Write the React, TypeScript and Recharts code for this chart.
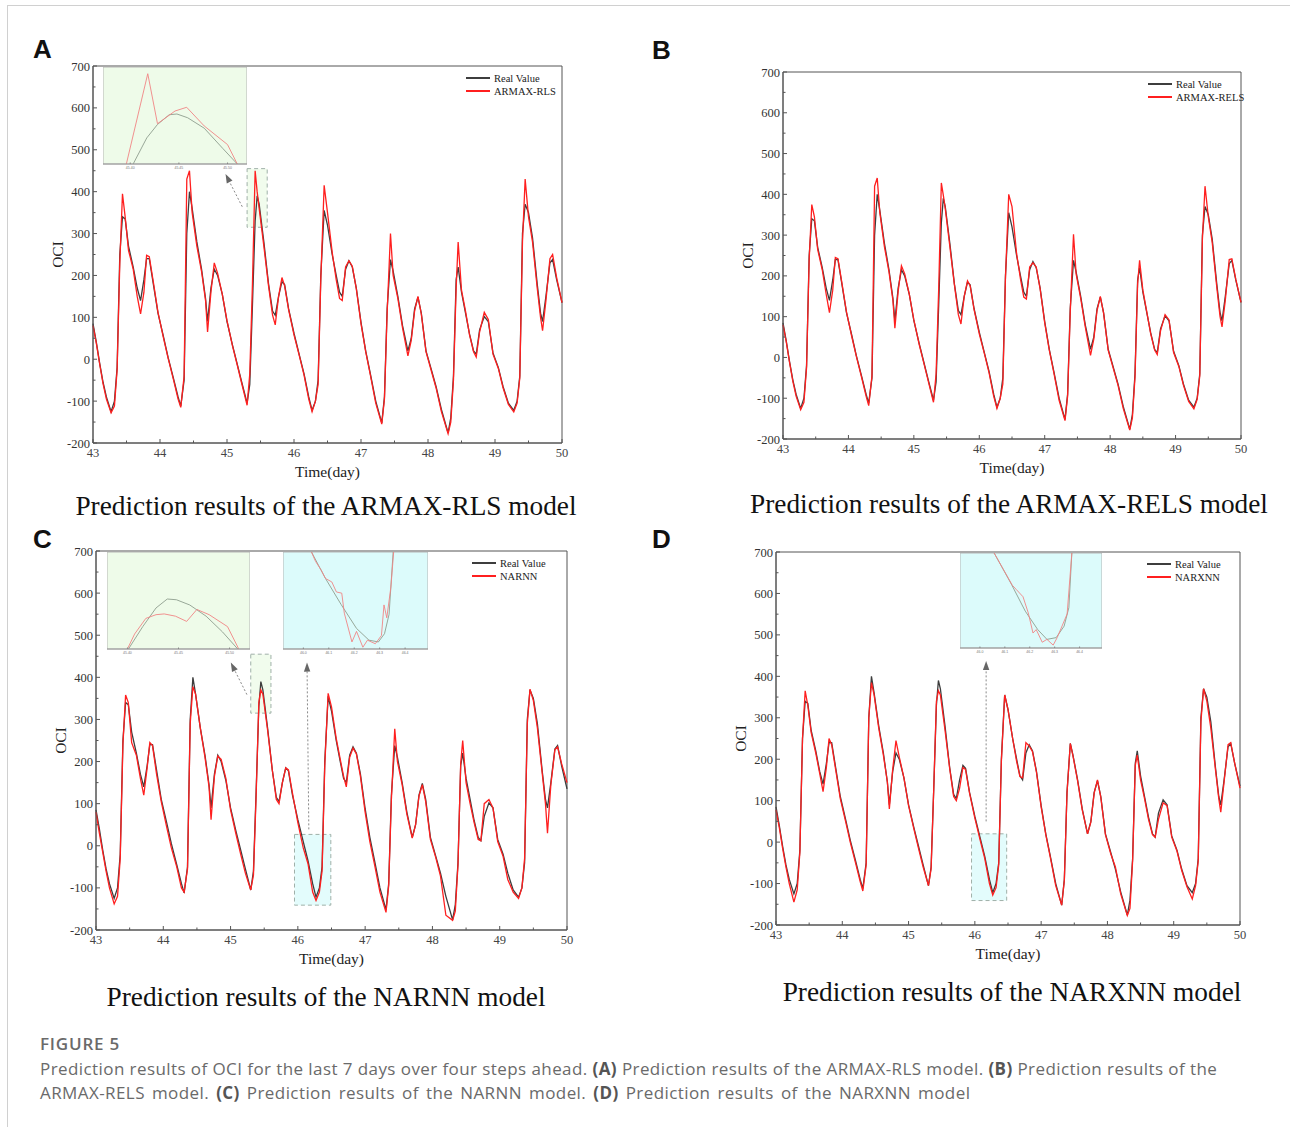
import React from "react";
import {
  CartesianGrid,
  Legend,
  Line,
  LineChart,
  ReferenceArea,
  ReferenceLine,
  XAxis,
  YAxis,
} from "recharts";

const SERIF = '"Liberation Serif", "Times New Roman", serif';
const SANS = '"Liberation Sans", Arial, sans-serif';
const CAPTION = '"Open Sans", "Noto Sans", sans-serif';

const REAL_COLOR = "#3d3d3d";
const PRED_COLOR = "#ff1f1f";

// sampling instants (day), shared by the four panels
const days = [
  43.0, 43.05, 43.1, 43.15, 43.2, 43.27, 43.32, 43.36, 43.4, 43.44,
  43.48, 43.53, 43.6, 43.66, 43.71, 43.76, 43.8, 43.84, 43.9, 43.97,
  44.05, 44.12, 44.2, 44.27, 44.31, 44.36, 44.4, 44.44, 44.48, 44.55,
  44.62, 44.68, 44.71, 44.76, 44.81, 44.86, 44.93, 45.0, 45.08, 45.15,
  45.22, 45.3, 45.34, 45.38, 45.42, 45.45, 45.48, 45.55, 45.62, 45.68,
  45.72, 45.77, 45.82, 45.86, 45.92, 46.0, 46.08, 46.15, 46.22, 46.27,
  46.32, 46.36, 46.4, 46.45, 46.5, 46.57, 46.63, 46.68, 46.72, 46.77,
  46.82, 46.87, 46.93, 47.0, 47.07, 47.14, 47.22, 47.31, 47.35, 47.39,
  47.44, 47.48, 47.55, 47.62, 47.7, 47.75, 47.8, 47.85, 47.9, 47.97,
  48.05, 48.12, 48.2, 48.3, 48.34, 48.38, 48.42, 48.45, 48.5, 48.56,
  48.62, 48.68, 48.72, 48.77, 48.84, 48.9, 48.97, 49.05, 49.12, 49.2,
  49.28, 49.33, 49.37, 49.41, 49.45, 49.5, 49.56, 49.63, 49.68, 49.71,
  49.76, 49.82, 49.86, 49.92, 50.0,
];

const realOCI = [
  85, 40, -10, -55, -90, -125, -100, -20, 250, 340,
  335, 270, 220, 170, 140, 190, 240, 240, 180, 110,
  55, 5, -45, -90, -112, -50, 300, 400, 360, 280,
  215, 145, 90, 170, 215, 200, 155, 90, 35, -10,
  -55, -105, -60, 130, 330, 390, 370, 280, 180, 115,
  105, 150, 185, 178, 120, 62, 10, -35, -90, -122,
  -100, -50, 200, 355, 320, 250, 200, 160, 150, 215,
  235, 220, 170, 88, 20, -35, -100, -152, -90, 120,
  238, 210, 150, 80, 20, 50, 120, 148, 110, 20,
  -25, -65, -120, -176, -140, -40, 190, 220, 160, 110,
  60, 20, 12, 70, 102, 90, 15, -20, -65, -105,
  -122, -100, -40, 300, 370, 350, 290, 180, 110, 90,
  150, 230, 238, 190, 135,
];

const armaxRlsOCI = [
  80, 38, -12, -58, -95, -128, -112, -25, 230, 395,
  340, 260, 215, 150, 108, 160, 248, 245, 185, 112,
  52, 3, -48, -95, -115, -40, 430, 450, 350, 270,
  210, 140, 65, 160, 230, 205, 155, 92, 33, -12,
  -58, -110, -35, 180, 450, 400, 360, 270, 175, 105,
  82, 150, 195, 175, 118, 58, 8, -38, -95, -125,
  -100, -60, 190, 415, 350, 255, 190, 145, 140, 220,
  235, 222, 168, 85, 18, -38, -105, -155, -95, 110,
  300, 200, 145, 75, 8, 45, 115, 150, 108, 18,
  -28, -68, -125, -178, -150, -50, 170, 280, 165, 115,
  58, 18, 5, 65, 112, 95, 12, -22, -68, -108,
  -126, -105, -45, 280, 430, 340, 280, 170, 100, 68,
  140, 240, 250, 195, 135,
];

const armaxRelsOCI = [
  80, 38, -12, -58, -95, -128, -110, -25, 240, 375,
  345, 265, 215, 155, 110, 165, 245, 242, 183, 112,
  52, 3, -48, -95, -118, -45, 420, 440, 355, 272,
  210, 140, 72, 162, 225, 205, 155, 92, 33, -12,
  -58, -110, -40, 170, 428, 398, 365, 272, 178, 105,
  82, 150, 188, 176, 118, 58, 8, -38, -95, -125,
  -100, -65, 195, 400, 370, 255, 192, 148, 143, 222,
  232, 222, 168, 85, 18, -38, -105, -155, -95, 110,
  302, 205, 145, 75, 5, 45, 115, 150, 108, 18,
  -28, -68, -125, -178, -148, -48, 180, 238, 165, 112,
  58, 18, 7, 65, 105, 92, 12, -22, -68, -108,
  -126, -103, -45, 290, 420, 345, 282, 172, 100, 75,
  140, 240, 242, 192, 135,
];

const narnnOCI = [
  80, 30, -15, -60, -100, -138, -120, -30, 240, 358,
  340, 245, 215, 160, 120, 185, 245, 238, 170, 105,
  45, -5, -50, -100, -110, -55, 290, 378, 360, 280,
  210, 140, 62, 165, 213, 205, 160, 85, 28, -20,
  -65, -105, -70, 120, 340, 370, 360, 275, 180, 110,
  100, 150, 185, 180, 125, 55, -5, -42, -110, -130,
  -110, -60, 190, 362, 330, 255, 205, 165, 140, 210,
  232, 218, 165, 80, 10, -45, -110, -158, -95, 110,
  278, 200, 145, 75, 18, 50, 118, 145, 105, 15,
  -28, -72, -165, -177, -155, -45, 195, 250, 150, 100,
  55, 15, 12, 100, 110, 90, 10, -25, -80, -110,
  -125, -100, -30, 290, 372, 345, 280, 175, 100, 30,
  145, 228, 235, 195, 150,
];

const narxnnOCI = [
  78, 35, -15, -60, -100, -145, -115, -25, 250, 365,
  330, 265, 215, 165, 122, 180, 250, 235, 175, 105,
  50, 0, -50, -95, -118, -55, 300, 385, 355, 275,
  210, 145, 80, 175, 245, 205, 155, 88, 32, -15,
  -60, -105, -65, 130, 340, 365, 355, 270, 178, 110,
  100, 130, 180, 175, 118, 58, 5, -40, -100, -128,
  -110, -55, 195, 355, 320, 250, 195, 158, 155, 240,
  232, 218, 168, 85, 18, -38, -105, -152, -92, 118,
  238, 208, 148, 78, 20, 48, 118, 150, 108, 18,
  -28, -60, -125, -177, -160, -45, 185, 210, 150, 105,
  55, 18, 12, 55, 95, 88, 12, -22, -68, -108,
  -137, -105, -45, 290, 370, 340, 275, 175, 105, 72,
  145, 235, 240, 190, 130,
];

const dayTicks = [43, 43.5, 44, 44.5, 45, 45.5, 46, 46.5, 47, 47.5, 48, 48.5, 49, 49.5, 50];
const ociTicks = [-200, -150, -100, -50, 0, 50, 100, 150, 200, 250, 300, 350, 400, 450, 500, 550, 600, 650, 700];

// zoomed insets: peak near day 45.45 and trough near day 46.27
const peakTicksX = [45.4, 45.45, 45.5];
const peakTicksY = [320, 340, 360, 380, 400, 420, 440];
const troughTicksX = [46.0, 46.1, 46.2, 46.3, 46.4];
const troughTicksY = [-120, -100, -80, -60, -40, -20, 0, 20];

const peakA_realDays = [45.403, 45.417, 45.428, 45.44, 45.448, 45.459, 45.476, 45.495, 45.51];
const peakA_real = [320, 355, 373, 386, 387, 382, 368, 341, 320];
const peakA_predDays = [45.396, 45.418, 45.428, 45.446, 45.458, 45.476, 45.5, 45.51];
const peakA_pred = [320, 441, 374, 391, 396, 371, 346, 320];

const peakC_realDays = [45.401, 45.415, 45.428, 45.439, 45.448, 45.461, 45.477, 45.493, 45.508];
const peakC_real = [320, 350, 375, 387, 386, 379, 364, 343, 320];
const peakC_predDays = [45.4, 45.407, 45.418, 45.428, 45.436, 45.447, 45.458, 45.468, 45.48, 45.498, 45.509];
const peakC_pred = [320, 340, 361, 366, 367, 364, 357, 373, 366, 350, 320];

const troughC_realDays = [46.032, 46.087, 46.148, 46.209, 46.258, 46.295, 46.319, 46.337, 46.353];
const troughC_real = [27, -18, -62, -103, -123, -126, -112, -79, 27];
const troughC_predDays = [46.032, 46.048, 46.069, 46.087, 46.112, 46.13, 46.151, 46.161, 46.191, 46.209, 46.234, 46.252, 46.283, 46.307, 46.317, 46.328, 46.344, 46.355];
const troughC_pred = [27, 11, -3, -18, -24, -41, -43, -77, -126, -108, -135, -123, -129, -115, -63, -85, -33, 27];

const troughD_realDays = [46.057, 46.126, 46.182, 46.232, 46.269, 46.306, 46.338, 46.357, 46.369];
const troughD_real = [27, -27, -74, -106, -123, -120, -100, -68, 27];
const troughD_predDays = [46.057, 46.13, 46.145, 46.173, 46.194, 46.213, 46.226, 46.25, 46.269, 46.294, 46.31, 46.35, 46.369];
const troughD_pred = [27, -29, -36, -49, -77, -112, -106, -128, -123, -133, -120, -79, 27];

const GREEN = "#eefbe9";
const CYAN = "#dcfbfb";

type Pt = { t: number; v: number };
const pts = (ts: number[], vs: number[]): Pt[] => ts.map((t, i) => ({ t, v: vs[i] }));

function MainXTick(props: any) {
  const { x, y, payload } = props;
  const major = Number.isInteger(payload.value);
  return (
    <g>
      <line x1={x} y1={y} x2={x} y2={y - (major ? 4 : 2.5)} stroke="#555" />
      {major && (
        <text x={x} y={y + 14} textAnchor="middle" fontFamily={SERIF} fontSize={12.5} fill="#444">
          {payload.value}
        </text>
      )}
    </g>
  );
}

function MainYTick(props: any) {
  const { x, y, payload } = props;
  const major = payload.value % 100 === 0;
  return (
    <g>
      <line x1={x} y1={y} x2={x + (major ? 4 : 2.5)} y2={y} stroke="#555" />
      {major && (
        <text x={x - 3} y={y + 4.5} textAnchor="end" fontFamily={SERIF} fontSize={12.5} fill="#333">
          {payload.value}
        </text>
      )}
    </g>
  );
}

function InsetXTick(props: any) {
  const { x, y, payload, digits } = props;
  return (
    <g>
      <line x1={x} y1={y} x2={x} y2={y - 1.5} stroke="#888" />
      <text x={x} y={y + 5} textAnchor="middle" fontFamily={SANS} fontSize={3.5} fill="#777">
        {payload.value.toFixed(digits)}
      </text>
    </g>
  );
}

function InsetYTick(props: any) {
  const { x, y, payload } = props;
  return (
    <g>
      <line x1={x} y1={y} x2={x + 1.5} y2={y} stroke="#888" />
      <text x={x + 3} y={y + 1.2} fontFamily={SANS} fontSize={3.5} fill="#777">
        {payload.value}
      </text>
    </g>
  );
}

function arrowShape(p: any) {
  const { x1, y1, x2, y2 } = p;
  const a = Math.atan2(y2 - y1, x2 - x1);
  const bx = x2 - 9 * Math.cos(a);
  const by = y2 - 9 * Math.sin(a);
  const s = Math.sin(a) * 3.2;
  const c = Math.cos(a) * 3.2;
  return (
    <g>
      <line x1={x1} y1={y1} x2={bx} y2={by} stroke="#8a8a8a" strokeDasharray="2 2" />
      <polygon points={`${x2},${y2} ${bx - s},${by + c} ${bx + s},${by - c}`} fill="#666" />
    </g>
  );
}

type InsetProps = {
  left: number;
  top: number;
  width: number;
  height: number;
  bg: string;
  xDomain: [number, number];
  yDomain: [number, number];
  xTicks: number[];
  yTicks: number[];
  digits: number;
  real: Pt[];
  pred: Pt[];
};

function Inset(p: InsetProps) {
  return (
    <div style={{ position: "absolute", left: p.left, top: p.top }}>
      <LineChart width={p.width} height={p.height + 8} margin={{ top: 0, right: 0, left: 0, bottom: 0 }}>
        <CartesianGrid horizontal={false} vertical={false} fill={p.bg} fillOpacity={1} />
        <XAxis
          dataKey="t"
          type="number"
          domain={p.xDomain}
          allowDataOverflow
          ticks={p.xTicks}
          interval={0}
          height={8}
          tickSize={0}
          tickMargin={0}
          tickLine={false}
          axisLine={{ stroke: "#999" }}
          tick={(t: any) => <InsetXTick {...t} digits={p.digits} />}
        />
        <YAxis
          type="number"
          domain={p.yDomain}
          allowDataOverflow
          ticks={p.yTicks}
          interval={0}
          width={0}
          tickSize={0}
          tickMargin={0}
          tickLine={false}
          axisLine={{ stroke: "#999" }}
          tick={(t: any) => <InsetYTick {...t} />}
        />
        <ReferenceArea x1={p.xDomain[0]} x2={p.xDomain[1]} y1={p.yDomain[0]} y2={p.yDomain[1]} fill="none" stroke="#b5b5b5" />
        <Line data={p.real} dataKey="v" stroke="#8e9e8e" strokeWidth={0.9} dot={false} isAnimationActive={false} />
        <Line data={p.pred} dataKey="v" stroke="#f08585" strokeWidth={0.9} dot={false} isAnimationActive={false} />
      </LineChart>
    </div>
  );
}

type Box = { x1: number; x2: number; y1: number; y2: number; fill: string };
type Arrow = { from: [number, number]; to: [number, number] };

type PanelProps = {
  plot: { x0: number; x1: number; y0: number; y1: number };
  pred: number[];
  predName: string;
  legendDx: number;
  boxes: Box[];
  arrows: Arrow[];
};

function Panel({ plot, pred, predName, legendDx, boxes, arrows }: PanelProps) {
  const { x0, x1, y0, y1 } = plot;
  const L = x0 - 60;
  const T = y0 - 20;
  const W = x1 + 20 - L;
  const H = y1 + 46 - T;
  const data = days.map((t, i) => ({ t, real: realOCI[i], pred: pred[i] }));
  return (
    <div style={{ position: "absolute", left: L, top: T }}>
      <LineChart width={W} height={H} data={data} margin={{ top: 20, right: 20, left: 15, bottom: 4 }}>
        <XAxis
          dataKey="t"
          type="number"
          domain={[43, 50]}
          ticks={dayTicks}
          interval={0}
          height={42}
          tickSize={0}
          tickMargin={0}
          tickLine={false}
          axisLine={{ stroke: "#555" }}
          tick={(t: any) => <MainXTick {...t} />}
          label={(lp: any) => {
            const vb = lp.viewBox;
            return (
              <text x={vb.x + vb.width / 2} y={vb.y + 34} textAnchor="middle" fontFamily={SERIF} fontSize={15.5} fill="#222">
                Time(day)
              </text>
            );
          }}
        />
        <YAxis
          type="number"
          domain={[-200, 700]}
          ticks={ociTicks}
          interval={0}
          width={45}
          tickSize={0}
          tickMargin={0}
          tickLine={false}
          axisLine={{ stroke: "#555" }}
          tick={(t: any) => <MainYTick {...t} />}
          label={(lp: any) => {
            const vb = lp.viewBox;
            const cx = vb.x + 9;
            const cy = vb.y + vb.height / 2;
            return (
              <text
                x={cx}
                y={cy}
                transform={`rotate(-90 ${cx} ${cy})`}
                textAnchor="middle"
                dominantBaseline="central"
                fontFamily={SERIF}
                fontSize={15.5}
                fill="#222"
              >
                OCI
              </text>
            );
          }}
        />
        <ReferenceArea x1={43} x2={50} y1={-200} y2={700} fill="none" stroke="#555" />
        {boxes.map((b, i) => (
          <ReferenceArea
            key={"b" + i}
            x1={b.x1}
            x2={b.x2}
            y1={b.y1}
            y2={b.y2}
            fill={b.fill}
            fillOpacity={0.8}
            stroke="#9fb0a8"
            strokeDasharray="4 3"
          />
        ))}
        {arrows.map((a, i) => (
          <ReferenceLine
            key={"a" + i}
            segment={[
              { x: a.from[0], y: a.from[1] },
              { x: a.to[0], y: a.to[1] },
            ]}
            shape={arrowShape}
          />
        ))}
        <Line dataKey="real" name="Real Value" stroke={REAL_COLOR} strokeWidth={1.3} dot={false} isAnimationActive={false} />
        <Line dataKey="pred" name={predName} stroke={PRED_COLOR} strokeWidth={1.3} dot={false} isAnimationActive={false} />
        <Legend
          layout="vertical"
          align="center"
          verticalAlign="middle"
          wrapperStyle={{ left: x1 - legendDx - L, top: 25.5, width: 110 }}
          content={(lp: any) => {
            const items = [...(lp.payload || [])].sort((a: any, b: any) =>
              a.dataKey === "real" ? -1 : b.dataKey === "real" ? 1 : 0
            );
            return (
              <div style={{ fontFamily: SERIF, fontSize: 10.5, color: "#222", lineHeight: "13px" }}>
                {items.map((e: any) => (
                  <div key={String(e.dataKey)} style={{ display: "flex", alignItems: "center" }}>
                    <span
                      style={{
                        display: "inline-block",
                        width: 24,
                        height: 1.5,
                        background: e.dataKey === "real" ? REAL_COLOR : PRED_COLOR,
                        marginRight: 4,
                      }}
                    />
                    {e.value}
                  </div>
                ))}
              </div>
            );
          }}
        />
      </LineChart>
    </div>
  );
}

function Letter({ x, y, c }: { x: number; y: number; c: string }) {
  return (
    <div style={{ position: "absolute", left: x, top: y, fontFamily: SANS, fontWeight: 700, fontSize: 26, lineHeight: 1, color: "#111" }}>
      {c}
    </div>
  );
}

function Title({ cx, cy, text }: { cx: number; cy: number; text: string }) {
  return (
    <div
      style={{
        position: "absolute",
        left: cx - 400,
        top: cy - 13.8,
        width: 800,
        textAlign: "center",
        fontFamily: SERIF,
        fontSize: 27.3,
        lineHeight: 1,
        color: "#111",
        whiteSpace: "nowrap",
      }}
    >
      {text}
    </div>
  );
}

export default function App() {
  const b = { fontWeight: 700, color: "#555" };
  const cap = {
    position: "absolute" as const,
    left: 40,
    fontFamily: CAPTION,
    fontSize: 17,
    letterSpacing: 0.42,
    lineHeight: 1,
    color: "#6a6a6a",
    whiteSpace: "nowrap" as const,
  };
  return (
    <div
      style={{
        position: "absolute",
        left: 0,
        top: 0,
        width: 1290,
        height: 1127,
        background: "#fff",
        overflow: "hidden",
      }}
    >
      <div style={{ position: "absolute", left: 7, top: 5, width: 1290, height: 1130, borderTop: "1px solid #d0d0d0", borderLeft: "1px solid #d0d0d0" }} />

      <Letter x={33} y={35.6} c="A" />
      <Letter x={652} y={36.6} c="B" />
      <Letter x={33} y={525.6} c="C" />
      <Letter x={652} y={525.6} c="D" />

      <Panel
        plot={{ x0: 93, x1: 562, y0: 66, y1: 443 }}
        pred={armaxRlsOCI}
        predName="ARMAX-RLS"
        legendDx={96}
        boxes={[{ x1: 45.3, x2: 45.6, y1: 315, y2: 455, fill: GREEN }]}
        arrows={[{ from: [45.228, 364], to: [44.978, 442] }]}
      />
      <Inset
        left={103}
        top={67}
        width={144}
        height={97}
        bg={GREEN}
        xDomain={[45.372, 45.52]}
        yDomain={[320, 450]}
        xTicks={peakTicksX}
        yTicks={peakTicksY}
        digits={2}
        real={pts(peakA_realDays, peakA_real)}
        pred={pts(peakA_predDays, peakA_pred)}
      />

      <Panel
        plot={{ x0: 783, x1: 1241, y0: 72, y1: 439 }}
        pred={armaxRelsOCI}
        predName="ARMAX-RELS"
        legendDx={93}
        boxes={[]}
        arrows={[]}
      />

      <Panel
        plot={{ x0: 96, x1: 567, y0: 551, y1: 930 }}
        pred={narnnOCI}
        predName="NARNN"
        legendDx={95}
        boxes={[
          { x1: 45.3, x2: 45.6, y1: 315, y2: 455, fill: GREEN },
          { x1: 45.95, x2: 46.49, y1: -141, y2: 27, fill: CYAN },
        ]}
        arrows={[
          { from: [45.243, 359], to: [45.004, 435] },
          { from: [46.163, 39], to: [46.136, 435] },
        ]}
      />
      <Inset
        left={107}
        top={552}
        width={143}
        height={97}
        bg={GREEN}
        xDomain={[45.38, 45.52]}
        yDomain={[320, 450]}
        xTicks={peakTicksX}
        yTicks={peakTicksY}
        digits={2}
        real={pts(peakC_realDays, peakC_real)}
        pred={pts(peakC_predDays, peakC_pred)}
      />
      <Inset
        left={283}
        top={552}
        width={145}
        height={97}
        bg={CYAN}
        xDomain={[45.92, 46.49]}
        yDomain={[-138, 27]}
        xTicks={troughTicksX}
        yTicks={troughTicksY}
        digits={1}
        real={pts(troughC_realDays, troughC_real)}
        pred={pts(troughC_predDays, troughC_pred)}
      />

      <Panel
        plot={{ x0: 776, x1: 1240, y0: 552, y1: 925 }}
        pred={narxnnOCI}
        predName="NARXNN"
        legendDx={93}
        boxes={[{ x1: 45.95, x2: 46.48, y1: -141, y2: 20, fill: CYAN }]}
        arrows={[{ from: [46.17, 50], to: [46.17, 437] }]}
      />
      <Inset
        left={960}
        top={553}
        width={142}
        height={95}
        bg={CYAN}
        xDomain={[45.92, 46.49]}
        yDomain={[-138, 27]}
        xTicks={troughTicksX}
        yTicks={troughTicksY}
        digits={1}
        real={pts(troughD_realDays, troughD_real)}
        pred={pts(troughD_predDays, troughD_pred)}
      />

      <Title cx={326} cy={507} text="Prediction results of the ARMAX-RLS model" />
      <Title cx={1009} cy={505} text="Prediction results of the ARMAX-RELS model" />
      <Title cx={326} cy={998} text="Prediction results of the NARNN model" />
      <Title cx={1012} cy={993} text="Prediction results of the NARXNN model" />

      <div style={{ ...cap, top: 1035, fontWeight: 600, letterSpacing: 0.8 }}>FIGURE 5</div>
      <div style={{ ...cap, top: 1060 }}>
        Prediction results of OCI for the last 7 days over four steps ahead. <span style={b}>(A)</span> Prediction results of the
        ARMAX-RLS model. <span style={b}>(B)</span> Prediction results of the
      </div>
      <div style={{ ...cap, top: 1084, wordSpacing: 2.2 }}>
        ARMAX-RELS model. <span style={b}>(C)</span> Prediction results of the NARNN model. <span style={b}>(D)</span> Prediction
        results of the NARXNN model
      </div>
    </div>
  );
}
